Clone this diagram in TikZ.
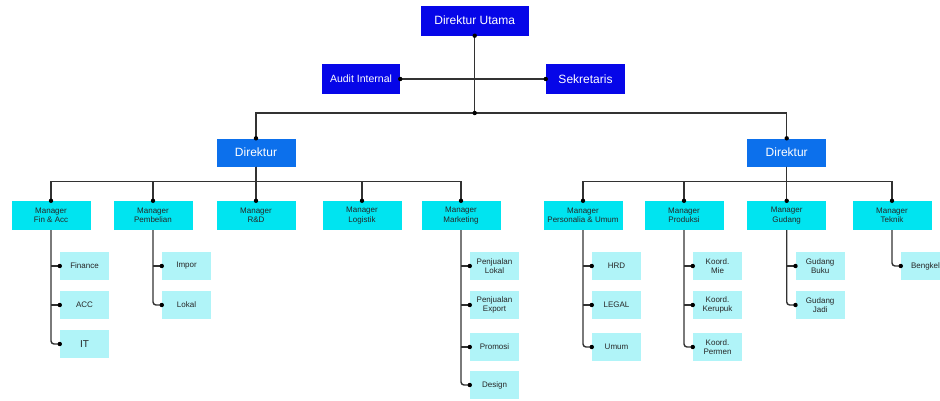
\documentclass[tikz,border=0pt]{standalone}
\usepackage{fontspec}
\setmainfont{Liberation Sans}
\usetikzlibrary{positioning}

\definecolor{topblue}{RGB}{6,6,232}
\definecolor{dirblue}{RGB}{12,112,236}
\definecolor{mgrcyan}{RGB}{0,228,240}
\definecolor{subcyan}{RGB}{176,244,248}
\definecolor{linegray}{RGB}{50,50,50}

\tikzset{
  topbox/.style={fill=topblue, text=white, inner sep=0pt, minimum height=30pt,
    font=\fontsize{12}{13}\selectfont},
  dirbox/.style={fill=dirblue, text=white, inner sep=0pt, minimum width=79pt,
    minimum height=28pt, font=\fontsize{12}{13}\selectfont},
  mgrbox/.style={fill=mgrcyan, text=black!85, inner sep=0pt, minimum width=79pt,
    minimum height=29pt, align=center, font=\fontsize{8}{9.5}\selectfont},
  subbox/.style={fill=subcyan, text=black!85, inner sep=0pt, minimum width=49pt,
    minimum height=28.5pt, align=center, font=\fontsize{8}{9.5}\selectfont},
  link/.style={draw=linegray, line width=1.4pt}
}
% titik hitam di ujung garis
\newcommand{\tdot}[1]{\fill[black] (#1) circle (2.2pt);}

\begin{document}
\begin{tikzpicture}[x=1pt, y=-1pt]
  \useasboundingbox (0,0) rectangle (940,400);
  % pimpinan
  \node[topbox, minimum width=108pt] (utama) at (474.7,20.5) {Direktur Utama};
  \node[topbox, minimum width=78pt, font=\fontsize{10.5}{12}\selectfont] (audit) at (361,79) {Audit Internal};
  \node[topbox, minimum width=79pt] (sekr) at (585.5,79) {Sekretaris};
  \coordinate (hub) at (474.7,113);
  \draw[link] (utama.south) -- (hub);
  \draw[link] (audit.east) -- (sekr.west);
  % direktur
  \node[dirbox] (dirL) at (256,152.5) {Direktur};
  \node[dirbox] (dirR) at (786.7,152.5) {Direktur};
  \draw[link] (dirL.north) |- (hub) -| (dirR.north);
  \foreach \p in {utama.south, hub, audit.east, sekr.west, dirL.north, dirR.north}
    \tdot{\p}
  % manager kiri
  \coordinate (barL) at (256,181.7);
  \foreach \name/\x/\txt in {mfin/51/{Manager\\Fin \& Acc}, mbeli/153/{Manager\\Pembelian},
      mrd/256/{Manager\\R\&D}, mlog/362/{Manager\\Logistik}, mmkt/461/{Manager\\Marketing}} {
    \node[mgrbox] (\name) at (\x,215.5) {\txt};
    \draw[link] (dirL.south) |- (barL) -| (\name.north);
    \tdot{\name.north}
  }
  % manager kanan
  \coordinate (barR) at (786.7,181.7);
  \foreach \name/\x/\txt in {mpers/583/{Manager\\Personalia \& Umum}, mprod/684/{Manager\\Produksi},
      mgud/786.7/{Manager\\Gudang}, mtek/892/{Manager\\Teknik}} {
    \node[mgrbox] (\name) at (\x,215.5) {\txt};
    \draw[link] (dirR.south) |- (barR) -| (\name.north);
    \tdot{\name.north}
  }
  % bagian di bawah manager
  \foreach \name/\y/\txt in {fin/266/Finance, acc/305/ACC, it/344/{\fontsize{10}{11}\selectfont IT}}
    \node[subbox] (\name) at (84.5,\y) {\txt};
  \foreach \name/\y/\txt in {impor/266/Impor, lokal/305/Lokal}
    \node[subbox] (\name) at (186.5,\y) {\txt};
  \foreach \name/\y/\txt in {pjl/266/{Penjualan\\Lokal}, pje/305/{Penjualan\\Export},
      promo/347/Promosi, design/385/Design}
    \node[subbox] (\name) at (494.5,\y) {\txt};
  \foreach \name/\y/\txt in {hrd/266/HRD, legal/305/LEGAL, umum/347/Umum}
    \node[subbox] (\name) at (616.5,\y) {\txt};
  \foreach \name/\y/\txt in {mie/266/{Koord.\\Mie}, kerupuk/305/{Koord.\\Kerupuk}, permen/347/{Koord.\\Permen}}
    \node[subbox] (\name) at (717.5,\y) {\txt};
  \foreach \name/\y/\txt in {buku/266/{Gudang\\Buku}, jadi/305/{Gudang\\Jadi}}
    \node[subbox] (\name) at (820.2,\y) {\txt};
  \node[subbox] (bengkel) at (925.5,266) {Bengkel};
  % garis cabang
  \foreach \m/\s in {mfin/fin, mfin/acc, mbeli/impor, mmkt/pjl, mmkt/pje, mmkt/promo,
      mpers/hrd, mpers/legal, mprod/mie, mprod/kerupuk, mgud/buku} {
    \draw[link] (\m.south |- \s.west) -- (\s.west);
    \tdot{\s.west}
  }
  \foreach \m/\s in {mfin/it, mbeli/lokal, mmkt/design, mpers/umum, mprod/permen, mgud/jadi, mtek/bengkel} {
    \draw[link, rounded corners=3pt] (\m.south) |- (\s.west);
    \tdot{\s.west}
  }
\end{tikzpicture}
\end{document}
